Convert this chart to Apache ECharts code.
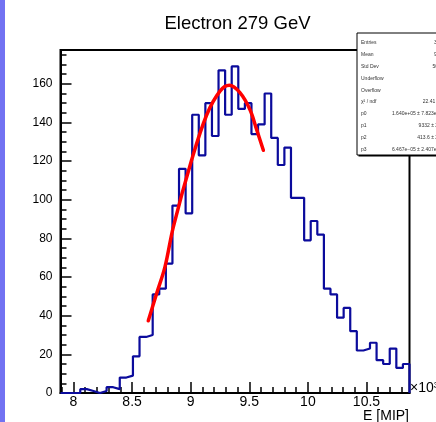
<!DOCTYPE html>
<html>
<head>
<meta charset="utf-8">
<script src="https://cdn.jsdelivr.net/npm/echarts@6/dist/echarts.min.js"></script>
<style>
  html, body { margin: 0; padding: 0; background: #ffffff; }
  #chart { width: 436px; height: 422px; }
</style>
</head>
<body>
<div id="chart"></div>
<script>
// Energy deposit histogram, x in units of 10^3 MIP
const binLow = 7.889;
const binHigh = 10.867;
const binCounts = [
  0, 0, 0, 2, 1, 0, 1, 3, 2, 8,
  9, 19, 29, 30, 51, 54, 67, 97, 116, 93,
  144, 123, 150, 133, 167, 144, 169, 147, 150, 134,
  139, 155, 132, 118, 127, 101, 101, 79, 89, 82,
  54, 51, 39, 44, 32, 22, 23, 26, 17, 15,
  23, 13, 15
];

// Fitted curve, sampled along its drawn range
const fitX = [8.638, 8.710, 8.781, 8.852, 9.009, 9.137, 9.250, 9.330, 9.420, 9.505, 9.563, 9.620];
const fitY = [37.4, 51.6, 65.4, 86.0, 120.8, 144.0, 156.2, 159.2, 155.4, 146.7, 136.3, 125.6];

// Axis ticks
const xMajorTicks = [8, 8.5, 9, 9.5, 10, 10.5];
const xMinorTicks = [7.9, 8.0, 8.1, 8.2, 8.3, 8.4, 8.5, 8.6, 8.7, 8.8, 8.9, 9.0, 9.1, 9.2, 9.3, 9.4,
                     9.5, 9.6, 9.7, 9.8, 9.9, 10.0, 10.1, 10.2, 10.3, 10.4, 10.5, 10.6, 10.7, 10.8];
const yMajorTicks = [0, 20, 40, 60, 80, 100, 120, 140, 160];
const yMinorTicks = [0, 5, 10, 15, 20, 25, 30, 35, 40, 45, 50, 55, 60, 65, 70, 75, 80, 85, 90,
                     95, 100, 105, 110, 115, 120, 125, 130, 135, 140, 145, 150, 155, 160, 165, 170, 175];
const yMax = 177.5;

// Statistics box rows
const statNames = ['Entries', 'Mean', 'Std Dev', 'Underflow', 'Overflow', 'χ² / ndf', 'p0', 'p1', 'p2', 'p3'];
const statValues = ['3616', '9490', '500.3', '0', '0', '22.41 / 14',
                    '1.640e+05 ± 7.823e+03', '9332 ± 23.5', '413.6 ± 21.7', '6.467e−05 ± 2.407e−06'];

// Build the step outline from bin edges and counts
const nBins = binCounts.length;
const binWidth = (binHigh - binLow) / nBins;
const outline = [[binLow, 0]];
for (let i = 0; i < nBins; i++) {
  const lo = binLow + i * binWidth;
  const hi = lo + binWidth;
  outline.push([lo, binCounts[i]]);
  outline.push([hi, binCounts[i]]);
}
outline.push([binHigh, 0]);

const fitData = fitX.map((x, i) => [x, fitY[i]]);

const FONT = 'Liberation Sans, Arial, sans-serif';
const gridRect = { left: 60.5, right: 26.5, top: 50, bottom: 29 };

const statGraphics = [];
const boxX = 357, boxY = 33, boxW = 92, boxH = 122;
statGraphics.push({
  type: 'rect', z: 100,
  shape: { x: boxX + 1.5, y: boxY + 1.5, width: boxW, height: boxH },
  style: { fill: '#000' }
});
statGraphics.push({
  type: 'rect', z: 101,
  shape: { x: boxX, y: boxY, width: boxW, height: boxH },
  style: { fill: '#fff', stroke: '#000', lineWidth: 1 }
});
statNames.forEach((name, k) => {
  const y = 43 + k * 11.8;
  statGraphics.push({
    type: 'text', z: 102, x: 361, y: y,
    style: { text: name, font: '5px ' + FONT, fill: '#333', verticalAlign: 'middle', align: 'left' }
  });
  statGraphics.push({
    type: 'text', z: 102, x: 445, y: y,
    style: { text: statValues[k], font: '5px ' + FONT, fill: '#333', verticalAlign: 'middle', align: 'right' }
  });
});

const chart = echarts.init(document.getElementById('chart'), null, { renderer: 'canvas' });
chart.setOption({
  animation: false,
  backgroundColor: '#ffffff',
  title: {
    text: 'Electron 279 GeV',
    left: 232.5, top: 9, textAlign: 'center',
    textStyle: { fontFamily: FONT, fontSize: 18.5, fontWeight: 'normal', color: '#000' }
  },
  grid: [
    Object.assign({ show: true, borderColor: '#000', borderWidth: 2, backgroundColor: 'transparent' }, gridRect),
    Object.assign({ show: false }, gridRect)
  ],
  xAxis: [
    {
      type: 'value', gridIndex: 0, min: binLow, max: binHigh, position: 'bottom',
      axisLine: { show: true, lineStyle: { color: '#000', width: 2 } },
      axisTick: { show: true, inside: true, length: 11, customValues: xMajorTicks, lineStyle: { color: '#000', width: 1.5 } },
      axisLabel: { show: true, customValues: xMajorTicks, margin: 2, fontFamily: FONT, fontSize: 14, color: '#000' },
      splitLine: { show: false }
    },
    {
      type: 'value', gridIndex: 1, min: binLow, max: binHigh, position: 'bottom',
      axisLine: { show: false },
      axisTick: { show: true, inside: true, length: 6, customValues: xMinorTicks, lineStyle: { color: '#000', width: 1.5 } },
      axisLabel: { show: false },
      splitLine: { show: false }
    }
  ],
  yAxis: [
    {
      type: 'value', gridIndex: 0, min: 0, max: yMax, position: 'left',
      axisLine: { show: true, lineStyle: { color: '#000', width: 2 } },
      axisTick: { show: true, inside: true, length: 11, customValues: yMajorTicks, lineStyle: { color: '#000', width: 1.5 } },
      axisLabel: { show: true, customValues: yMajorTicks, margin: 8, fontFamily: FONT, fontSize: 12, color: '#000' },
      splitLine: { show: false }
    },
    {
      type: 'value', gridIndex: 1, min: 0, max: yMax, position: 'left',
      axisLine: { show: false },
      axisTick: { show: true, inside: true, length: 6, customValues: yMinorTicks, lineStyle: { color: '#000', width: 1.5 } },
      axisLabel: { show: false },
      splitLine: { show: false }
    }
  ],
  series: [
    {
      name: 'histogram', type: 'line', xAxisIndex: 0, yAxisIndex: 0,
      data: outline, showSymbol: false, symbol: 'none', z: 3,
      lineStyle: { color: '#0b0b9c', width: 2.2 }
    },
    {
      name: 'fit', type: 'line', xAxisIndex: 0, yAxisIndex: 0,
      data: fitData, showSymbol: false, symbol: 'none', smooth: 0.35, z: 4,
      lineStyle: { color: '#ff0000', width: 3.5, cap: 'round' }
    }
  ],
  graphic: [
    { type: 'rect', z: 120, shape: { x: 0, y: 0, width: 5, height: 422 }, style: { fill: '#7272f2' } },
    {
      type: 'text', z: 110, x: 410, y: 381,
      style: { text: '×10³', font: '14px ' + FONT, fill: '#000', verticalAlign: 'top', align: 'left' }
    },
    {
      type: 'text', z: 110, x: 409, y: 409,
      style: { text: 'E [MIP]', font: '14px ' + FONT, fill: '#000', verticalAlign: 'top', align: 'right' }
    }
  ].concat(statGraphics)
});
</script>
</body>
</html>
